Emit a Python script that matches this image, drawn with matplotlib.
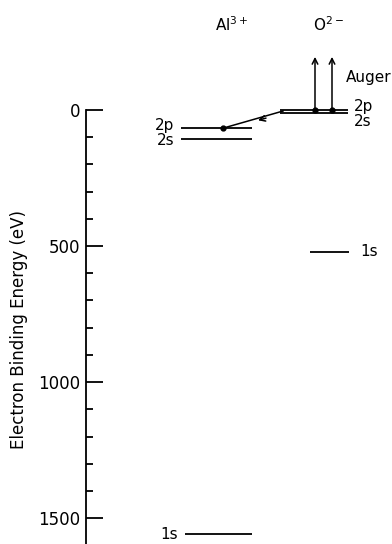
import matplotlib.pyplot as plt

# Binding energies (eV)
al_levels = ['2p', '2s', '1s']
al_energy = [67, 107, 1559]
o_levels = ['2p', '2s', '1s']
o_energy = [2, 13, 522]
auger_top = -195  # arrow tips above the vacuum level

yticks_major = [0, 500, 1000, 1500]
ytick_labels = ['0', '500', '1000', '1500']

plt.rcParams['font.family'] = ['DejaVu Sans']
fs = 11

fig = plt.figure(figsize=(3.92, 5.44), dpi=100)
ax = fig.add_axes([86 / 392, 0, 306 / 392, 1])
ax.set_xlim(86, 392)
ax.set_ylim(1595, -404)

# Al3+ column
ax.hlines(al_energy[:2], 181, 252, color='black', lw=1.3)
ax.hlines(al_energy[2], 185, 252, color='black', lw=1.3)
ax.text(174, al_energy[0] - 8, al_levels[0], ha='right', va='center', fontsize=fs)
ax.text(174, al_energy[1] + 6, al_levels[1], ha='right', va='center', fontsize=fs)
ax.text(178, al_energy[2], al_levels[2], ha='right', va='center', fontsize=fs)

# O2- column
ax.hlines(o_energy[:2], 280, 348, color='black', lw=1.3)
ax.hlines(o_energy[2], 310, 349, color='black', lw=1.3)
ax.text(354, o_energy[0] - 14, o_levels[0], ha='left', va='center', fontsize=fs)
ax.text(354, o_energy[1] + 28, o_levels[1], ha='left', va='center', fontsize=fs)
ax.text(360, o_energy[2], o_levels[2], ha='left', va='center', fontsize=fs)

# headers
ax.text(232, -315, r'Al$^{3+}$', ha='center', va='center', fontsize=fs)
ax.text(328, -315, r'O$^{2-}$', ha='center', va='center', fontsize=fs)
ax.text(346, -118, 'Auger', ha='left', va='center', fontsize=fs)

# Auger electrons
for xa in [315, 332]:
    ax.annotate('', xy=(xa, auger_top), xytext=(xa, o_energy[0]),
                arrowprops=dict(arrowstyle='->', color='black', lw=1.1,
                                shrinkA=0, shrinkB=0))
    ax.plot(xa, o_energy[0], 'o', color='black', ms=3.5)

# electron transfer O 2p -> Al 2p
ax.plot([283, 223], [o_energy[0] + 2, al_energy[0]], color='black', lw=1.1)
ax.annotate('', xy=(258, 38), xytext=(266, 30),
            arrowprops=dict(arrowstyle='->', color='black', lw=1.1,
                            shrinkA=0, shrinkB=0))
ax.plot(223, al_energy[0], 'o', color='black', ms=3.5)

# axis
for s in ['top', 'right', 'bottom']:
    ax.spines[s].set_visible(False)
ax.spines['left'].set_bounds(0, 1595)
ax.spines['left'].set_linewidth(1.3)
ax.set_xticks([])
ax.set_yticks(yticks_major)
ax.set_yticklabels(ytick_labels, fontsize=12)
ax.set_yticks(range(100, 1600, 100), minor=True)
ax.tick_params(axis='y', which='major', direction='in', length=12, width=1.3, pad=4)
ax.tick_params(axis='y', which='minor', direction='in', length=5, width=1.3)
ax.set_ylabel('Electron Binding Energy (eV)', fontsize=12)
ax.yaxis.set_label_coords(-58 / 306, 0.395)

fig.savefig('out.png', dpi=100)
